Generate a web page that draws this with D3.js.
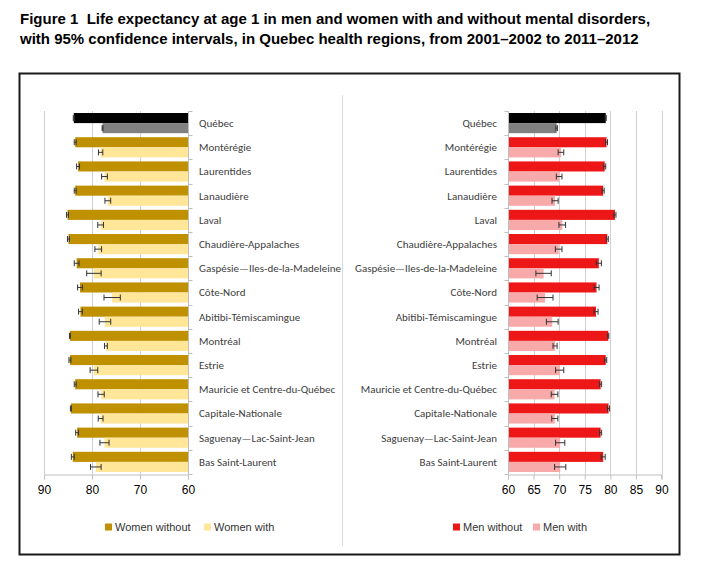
<!DOCTYPE html>
<html>
<head>
<meta charset="utf-8">
<script src="https://cdn.jsdelivr.net/npm/d3@7"></script>
<style>
  body { margin: 0; background: #fff; }
  svg { display: block; }
</style>
</head>
<body>
<script>
const width = 702;
const height = 586;

// regions, top to bottom
const regions = ["Québec", "Montérégie", "Laurentides", "Lanaudière", "Laval",
  "Chaudière-Appalaches", "Gaspésie—Iles-de-la-Madeleine", "Côte-Nord",
  "Abitibi-Témiscamingue", "Montréal", "Estrie", "Mauricie et Centre-du-Québec",
  "Capitale-Nationale", "Saguenay—Lac-Saint-Jean", "Bas Saint-Laurent"];

// life expectancy at age 1 and half-width of the 95% CI
const womenWithout    = [83.8, 83.5, 82.9, 83.5, 85.1, 84.9, 83.2, 82.5, 82.4, 84.6, 84.6, 83.5, 84.4, 83.1, 84.0];
const womenWithoutErr = [0.1, 0.2, 0.3, 0.2, 0.2, 0.2, 0.5, 0.5, 0.4, 0.1, 0.2, 0.2, 0.1, 0.3, 0.3];
const womenWith       = [77.8, 78.2, 77.4, 76.7, 78.2, 78.7, 79.6, 75.8, 77.3, 77.1, 79.6, 78.1, 78.2, 77.4, 79.2];
const womenWithErr    = [0.1, 0.45, 0.6, 0.6, 0.6, 0.7, 1.5, 1.7, 1.2, 0.3, 0.8, 0.65, 0.5, 0.95, 1.1];

const menWithout    = [79.1, 79.25, 78.9, 78.6, 80.9, 79.4, 77.75, 77.3, 77.2, 79.6, 79.1, 78.1, 79.65, 78.1, 78.6];
const menWithoutErr = [0.1, 0.2, 0.2, 0.2, 0.2, 0.2, 0.5, 0.5, 0.4, 0.1, 0.2, 0.2, 0.2, 0.2, 0.4];
const menWith       = [69.5, 70.35, 70.0, 69.2, 70.6, 69.9, 66.95, 67.25, 68.65, 69.2, 70.1, 69.1, 69.15, 70.2, 70.2];
const menWithErr    = [0.15, 0.55, 0.55, 0.6, 0.65, 0.65, 1.5, 1.55, 1.15, 0.4, 0.8, 0.65, 0.6, 0.9, 1.1];

const leftTicks = [90, 80, 70, 60];
const rightTicks = [60, 65, 70, 75, 80, 85, 90];

const colors = {
  womenWithout: "#bf9000", womenWith: "#ffe699",
  menWithout: "#ee1717", menWith: "#f8a9a9",
  totalWithout: "#000000", totalWith: "#808080"
};

const svg = d3.select("body").append("svg")
  .attr("width", width)
  .attr("height", height);

// title
const title = svg.append("text")
  .attr("x", 20).attr("y", 24)
  .style("font-family", "'Liberation Sans', Arial, sans-serif")
  .style("font-weight", "bold")
  .style("font-size", "15px")
  .style("white-space", "pre")
  .attr("fill", "#000");
title.append("tspan").attr("x", 20).attr("dy", 0)
  .text("Figure 1\u00a0\u00a0Life expectancy at age 1 in men and women with and without mental disorders,");
title.append("tspan").attr("x", 20).attr("dy", 20)
  .text("with 95% confidence intervals, in Quebec health regions, from 2001–2002 to 2011–2012");

// outer frame and separator
svg.append("rect")
  .attr("x", 19.5).attr("y", 73.5)
  .attr("width", 660).attr("height", 481)
  .attr("fill", "none").attr("stroke", "#1a1a1a").attr("stroke-width", 2);
svg.append("line")
  .attr("x1", 342.5).attr("x2", 342.5).attr("y1", 95).attr("y2", 546)
  .attr("stroke", "#d9d9d9");

const y = d3.scaleBand().domain(regions).range([111, 474]);
const ySub = d3.scaleBand().domain(["without", "with"]).range([0, y.bandwidth()]).paddingOuter(0.2);

const xLeft = d3.scaleLinear().domain([90, 60]).range([44, 188]);
const xRight = d3.scaleLinear().domain([60, 90]).range([508, 661.5]);

function drawPanel(g, x, baseVal, ticks, withoutVals, withoutErr, withVals, withErr, cWithout, cWith, side) {
  // gridlines
  g.selectAll("line.grid").data(ticks.filter(t => t !== baseVal)).join("line")
    .attr("class", "grid")
    .attr("x1", d => Math.round(x(d)) + 0.5).attr("x2", d => Math.round(x(d)) + 0.5)
    .attr("y1", 111).attr("y2", 474)
    .attr("stroke", "#d0d0d0");

  const bars = [];
  regions.forEach((r, i) => {
    bars.push({ region: r, key: "without", v: withoutVals[i], e: withoutErr[i],
      c: i === 0 ? colors.totalWithout : cWithout });
    bars.push({ region: r, key: "with", v: withVals[i], e: withErr[i],
      c: i === 0 ? colors.totalWith : cWith });
  });

  g.selectAll("rect.bar").data(bars).join("rect")
    .attr("class", "bar")
    .attr("x", d => Math.min(x(baseVal), x(d.v)))
    .attr("width", d => Math.abs(x(d.v) - x(baseVal)))
    .attr("y", d => y(d.region) + ySub(d.key))
    .attr("height", ySub.bandwidth())
    .attr("fill", d => d.c);

  // error bars
  const eb = g.selectAll("g.err").data(bars).join("g").attr("class", "err")
    .attr("transform", d => `translate(0,${y(d.region) + ySub(d.key) + ySub.bandwidth() / 2})`);
  eb.append("line")
    .attr("x1", d => x(d.v - d.e)).attr("x2", d => x(d.v + d.e))
    .attr("stroke", "#333").attr("stroke-width", 1);
  eb.append("line")
    .attr("x1", d => x(d.v - d.e)).attr("x2", d => x(d.v - d.e))
    .attr("y1", -3).attr("y2", 3)
    .attr("stroke", "#333").attr("stroke-width", 1);
  eb.append("line")
    .attr("x1", d => x(d.v + d.e)).attr("x2", d => x(d.v + d.e))
    .attr("y1", -3).attr("y2", 3)
    .attr("stroke", "#333").attr("stroke-width", 1);

  // category axis at the 60 line
  const bx = Math.round(x(baseVal)) + 0.5;
  g.append("line")
    .attr("x1", bx).attr("x2", bx).attr("y1", 111).attr("y2", 474)
    .attr("stroke", "#bfbfbf");
  const tickDir = side === "left" ? 4 : -4;
  g.selectAll("line.ctick").data(d3.range(regions.length + 1)).join("line")
    .attr("class", "ctick")
    .attr("x1", bx).attr("x2", bx + tickDir)
    .attr("y1", d => Math.round(111 + d * y.step()) + 0.5)
    .attr("y2", d => Math.round(111 + d * y.step()) + 0.5)
    .attr("stroke", "#bfbfbf");

  // value axis
  const axis = d3.axisBottom(x).tickValues(ticks).tickSize(5).tickPadding(6).tickFormat(d3.format("d"));
  const ax = g.append("g").attr("transform", "translate(0,474.5)").call(axis);
  ax.select(".domain").attr("stroke", "#bfbfbf");
  ax.selectAll(".tick line").attr("stroke", "#bfbfbf");
  ax.selectAll(".tick text")
    .attr("fill", "#000")
    .style("font-family", "'Liberation Sans', Arial, sans-serif")
    .style("font-size", "12px");

  // region labels
  g.selectAll("text.region").data(regions).join("text")
    .attr("class", "region")
    .attr("x", side === "left" ? 199 : 497)
    .attr("y", d => y(d) + y.bandwidth() / 2)
    .attr("dy", "0.35em")
    .attr("text-anchor", side === "left" ? "start" : "end")
    .attr("fill", "#404040")
    .style("font-family", "Carlito, Lato, 'Open Sans', sans-serif")
    .style("font-size", "11px")
    .text(d => d);
}

drawPanel(svg.append("g"), xLeft, 60, leftTicks,
  womenWithout, womenWithoutErr, womenWith, womenWithErr,
  colors.womenWithout, colors.womenWith, "left");
drawPanel(svg.append("g"), xRight, 60, rightTicks,
  menWithout, menWithoutErr, menWith, menWithErr,
  colors.menWithout, colors.menWith, "right");

// legends
const legendItems = [
  { label: "Women without", c: colors.womenWithout, x: 105 },
  { label: "Women with", c: colors.womenWith, x: 204 },
  { label: "Men without", c: colors.menWithout, x: 453 },
  { label: "Men with", c: colors.menWith, x: 533 }
];
const lg = svg.selectAll("g.legend").data(legendItems).join("g")
  .attr("class", "legend")
  .attr("transform", d => `translate(${d.x},527)`);
lg.append("rect").attr("x", 0).attr("y", -3.5).attr("width", 7).attr("height", 7).attr("fill", d => d.c);
lg.append("text").attr("x", 10).attr("dy", "0.35em")
  .attr("fill", "#333")
  .style("font-family", "'Liberation Sans', Arial, sans-serif")
  .style("font-size", "11px")
  .text(d => d.label);
</script>
</body>
</html>
